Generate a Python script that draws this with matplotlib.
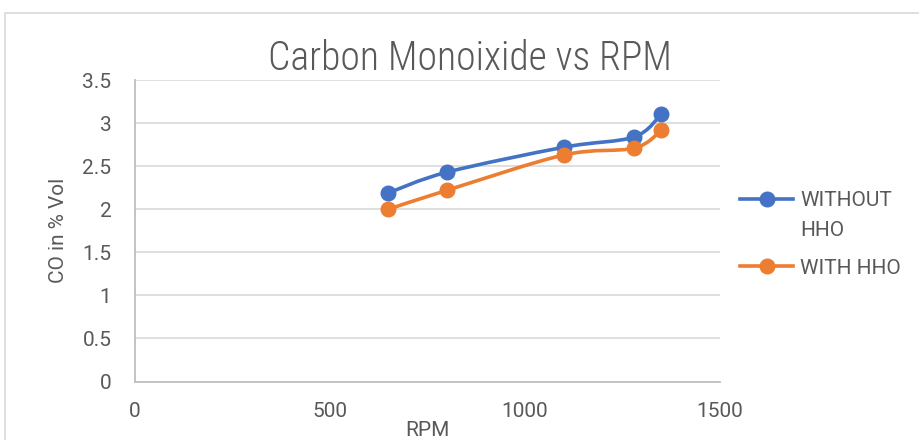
import numpy as np
import matplotlib.pyplot as plt
from matplotlib.path import Path
from matplotlib.patches import PathPatch, Rectangle
from matplotlib.lines import Line2D

plt.rcParams['font.family'] = ['Roboto', 'DejaVu Sans']

# data
rpm = [650, 800, 1100, 1280, 1350]
co_without = [2.19, 2.43, 2.72, 2.84, 3.11]
co_with = [2.00, 2.22, 2.63, 2.71, 2.92]

blue = '#4472C4'
orange = '#ED7D31'
txt = '#595959'


def smooth_path(xs, ys):
    # excel style smoothed line: catmull-rom as cubic bezier segments
    pts = np.column_stack([xs, ys]).astype(float)
    verts = [pts[0]]
    codes = [Path.MOVETO]
    n = len(pts)
    for i in range(n - 1):
        p0 = pts[i - 1] if i > 0 else pts[i]
        p1 = pts[i]
        p2 = pts[i + 1]
        p3 = pts[i + 2] if i + 2 < n else pts[i + 1]
        c1 = p1 + (p2 - p0) / 6.0
        c2 = p2 - (p3 - p1) / 6.0
        verts += [c1, c2, p2]
        codes += [Path.CURVE4] * 3
    return Path(verts, codes)


W, H = 919, 440
fig = plt.figure(figsize=(W / 100, H / 100), dpi=100)
ax = fig.add_axes([135 / W, 1 - 381.5 / H, (720 - 135) / W, (381.5 - 80) / H])

for ys, col in [(co_without, blue), (co_with, orange)]:
    ax.add_patch(PathPatch(smooth_path(rpm, ys), fill=False, ec=col, lw=2.6,
                           capstyle='round', joinstyle='round', zorder=3))
    ax.plot(rpm, ys, 'o', color=col, ms=10.5, zorder=4)

ax.set_xlim(0, 1500)
ax.set_ylim(0, 3.5)
ax.set_xticks([0, 500, 1000, 1500])
ax.set_yticks(np.arange(0, 3.51, 0.5))
ax.set_yticklabels(['0', '0.5', '1', '1.5', '2', '2.5', '3', '3.5'])
ax.yaxis.grid(True, color='#d9d9d9', lw=1.2)
ax.set_axisbelow(True)
for s in ['top', 'right']:
    ax.spines[s].set_visible(False)
for s in ['left', 'bottom']:
    ax.spines[s].set_color('#bfbfbf')
    ax.spines[s].set_linewidth(1.3)
ax.tick_params(length=0, labelsize=15, colors=txt)
ax.tick_params(axis='y', pad=17)
ax.tick_params(axis='x', pad=15)

fig.text(470 / W, 1 - 59 / H, 'Carbon Monoixide vs RPM', fontsize=28.5,
         color=txt, ha='center', va='center',
         family=['Roboto Condensed', 'Liberation Sans Narrow', 'Roboto'],
         fontweight='light')
ax.set_xlabel('RPM', fontsize=15, color=txt, labelpad=0)
ax.set_ylabel('CO in % Vol', fontsize=15, color=txt, labelpad=10)

h_blue = Line2D([], [], color=blue, lw=2.6, marker='o', ms=10.5)
h_orange = Line2D([], [], color=orange, lw=2.6, marker='o', ms=10.5)
h_none = Line2D([], [], color='none')
leg_kw = dict(frameon=False, fontsize=15, labelcolor=txt, handlelength=2.55,
              handletextpad=0.33, borderpad=0, borderaxespad=0,
              bbox_transform=fig.transFigure)
leg1 = ax.legend([h_blue, h_none], ['WITHOUT', 'HHO'], loc='upper left',
                 bbox_to_anchor=(740 / W, 1 - 191 / H), labelspacing=0.55,
                 **leg_kw)
ax.add_artist(leg1)
ax.legend([h_orange], ['WITH HHO'], loc='center left',
          bbox_to_anchor=(740 / W, 1 - 268 / H), **leg_kw)

fig.add_artist(Rectangle((5 / W, -0.1), 2, 1 - 13 / H + 0.1,
                         transform=fig.transFigure, fill=False,
                         ec='#d9d9d9', lw=1.2))

fig.savefig('out.png', dpi=100)
